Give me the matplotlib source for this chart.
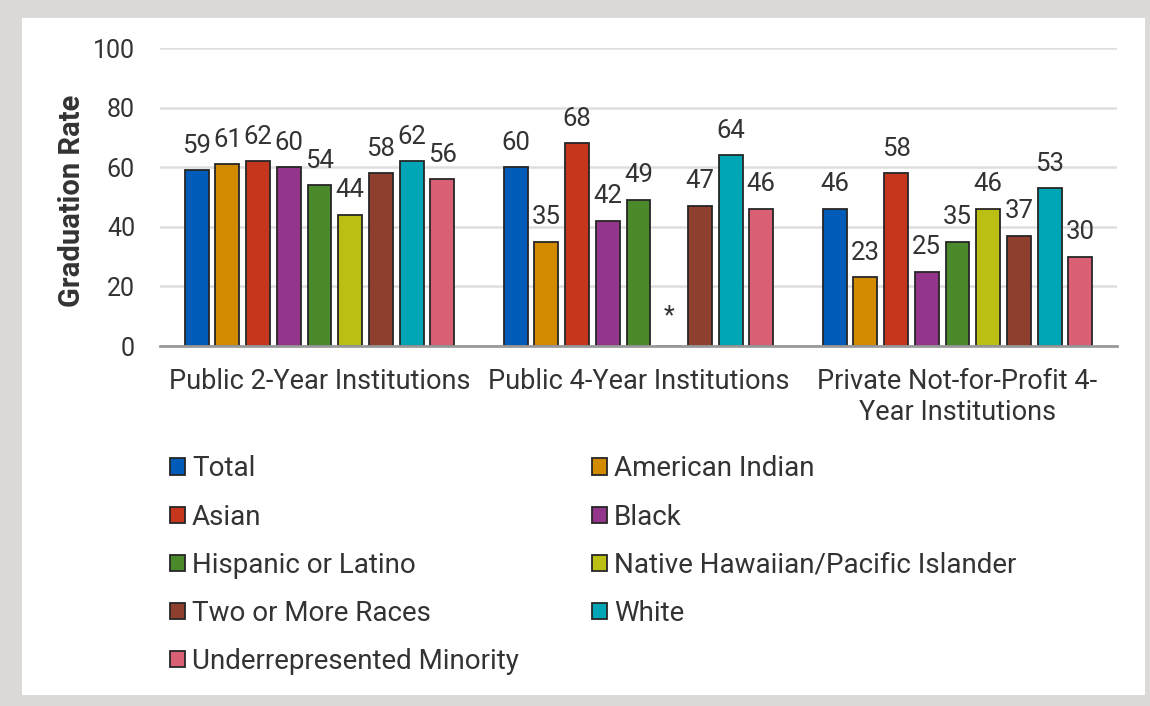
import numpy as np
import matplotlib
matplotlib.use("Agg")
import matplotlib.pyplot as plt
from matplotlib.patches import Rectangle, Patch

plt.rcParams['font.family'] = ['Roboto', 'DejaVu Sans']

categories = ["Public 2-Year Institutions", "Public 4-Year Institutions",
              "Private Not-for-Profit 4-\nYear Institutions"]
series_names = ["Total", "American Indian", "Asian", "Black", "Hispanic or Latino",
                "Native Hawaiian/Pacific Islander", "Two or More Races", "White",
                "Underrepresented Minority"]
total = [59, 60, 46]
american_indian = [61, 35, 23]
asian = [62, 68, 58]
black = [60, 42, 25]
hispanic = [54, 49, 35]
native_hawaiian = [44, np.nan, 46]
two_or_more = [58, 47, 37]
white = [62, 64, 53]
urm = [56, 46, 30]
series_values = [total, american_indian, asian, black, hispanic,
                 native_hawaiian, two_or_more, white, urm]
colors = ["#005bb9", "#d28a00", "#c5361d", "#94358c", "#4b8a2b",
          "#bcbf13", "#8f3f2d", "#00a6b5", "#d95f74"]
yticks = [0, 20, 40, 60, 80, 100]

TXT = "#333333"
W, H = 1150, 706
fig = plt.figure(figsize=(W / 100, H / 100), dpi=100, facecolor="#dcd9d6")
fig.patches.append(Rectangle((22 / W, 1 - 695 / H), (1145 - 22) / W, (695 - 18) / H,
                             transform=fig.transFigure, facecolor="white",
                             edgecolor="none", zorder=-10))

ax = fig.add_axes([160 / W, 1 - 346 / H, (1117 - 160) / W, (346 - 48) / H])
ax.set_facecolor("none")

n = len(series_names)
pitch = 0.0962
bw = 0.075
x = np.arange(len(categories))
for i, (name, vals, c) in enumerate(zip(series_names, series_values, colors)):
    xs = x + (i - (n - 1) / 2) * pitch
    vals = np.array(vals, dtype=float)
    ax.bar(xs, np.nan_to_num(vals), width=bw, color=c, edgecolor="#262626",
           linewidth=1.3, zorder=3)
    for xi, v in zip(xs, vals):
        if np.isnan(v):
            ax.text(xi, 10, "*", ha="center", va="center", fontsize=18, color=TXT)
        else:
            ax.annotate(f"{v:.0f}", (xi, v), xytext=(0, 9), textcoords="offset points",
                        ha="center", va="bottom", fontsize=18.5, color=TXT)

ax.set_xlim(-0.5, 2.5)
ax.set_ylim(0, 100)
ax.set_yticks(yticks)
ax.set_xticks(x)
ax.set_xticklabels(categories, fontsize=19.5, color=TXT, linespacing=1.17)
ax.tick_params(axis="y", length=0, pad=18, labelsize=18, labelcolor=TXT)
ax.tick_params(axis="x", length=0, pad=16)
ax.grid(axis="y", color="#dedede", linewidth=1.8, zorder=0)
for s in ["top", "left", "right"]:
    ax.spines[s].set_visible(False)
ax.spines["bottom"].set_color("#9a9a9a")
ax.spines["bottom"].set_linewidth(2)
ax.spines["bottom"].set_zorder(4)

fig.text(72 / W, 1 - 201 / H, "Graduation Rate", rotation=90, ha="center", va="center",
         fontsize=21, fontweight="bold", color=TXT)

handles = [Patch(facecolor=c, edgecolor="#262626", linewidth=1.3) for c in colors]
kw = dict(frameon=False, fontsize=20, handlelength=0.54, handleheight=0.54,
          handletextpad=0.25, labelspacing=0.76, borderpad=0, borderaxespad=0,
          labelcolor=TXT)
left_idx = [0, 2, 4, 6, 8]
right_idx = [1, 3, 5, 7]
leg1 = fig.legend([handles[i] for i in left_idx], [series_names[i] for i in left_idx],
                  loc="upper left", bbox_to_anchor=(170 / W, 1 - 455.5 / H), **kw)
leg2 = fig.legend([handles[i] for i in right_idx], [series_names[i] for i in right_idx],
                  loc="upper left", bbox_to_anchor=(592 / W, 1 - 455.5 / H), **kw)

fig.savefig("out.png", dpi=100, facecolor=fig.get_facecolor())
